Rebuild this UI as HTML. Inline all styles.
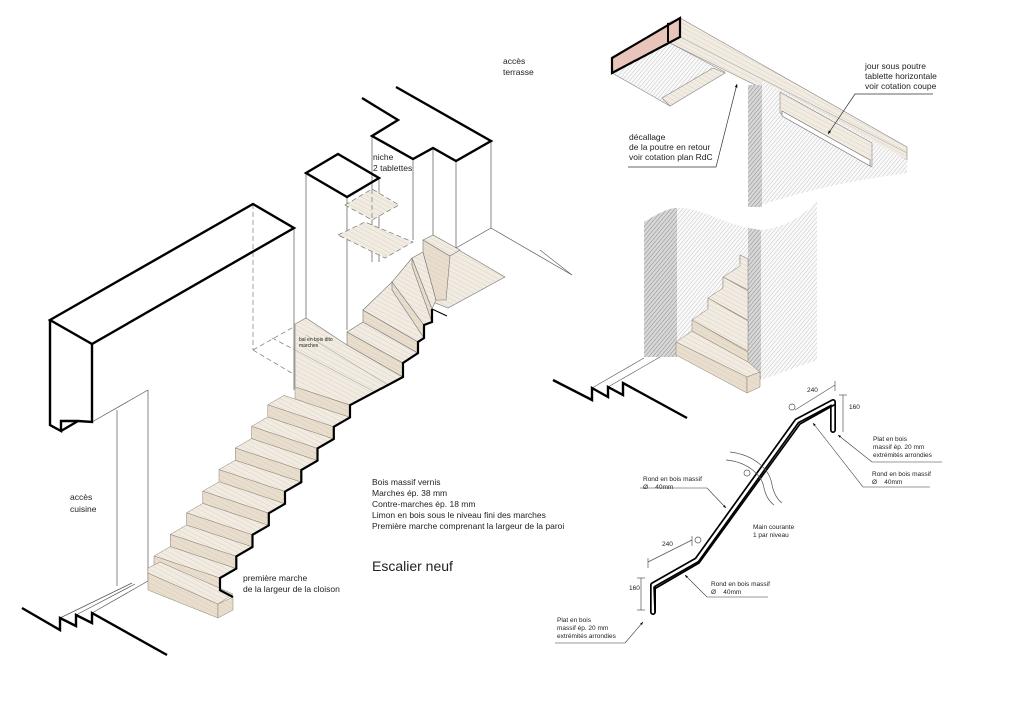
<!DOCTYPE html>
<html><head><meta charset="utf-8">
<style>
html,body{margin:0;padding:0;background:#fff;}
svg{display:block;}
text{font-family:"Liberation Sans",sans-serif;fill:#222;}
</style></head>
<body>
<svg width="1024" height="723" viewBox="0 0 1024 723" xmlns="http://www.w3.org/2000/svg">
<defs>
<pattern id="hb" width="4" height="4" patternUnits="userSpaceOnUse" patternTransform="rotate(28)">
<rect width="4" height="4" fill="#f1ebe1"/><line x1="0" y1="0" x2="4" y2="0" stroke="#d8cfc2" stroke-width="0.8"/></pattern>
<pattern id="hr" width="4" height="4" patternUnits="userSpaceOnUse" patternTransform="rotate(28)">
<rect width="4" height="4" fill="#e9dece"/><line x1="0" y1="0" x2="4" y2="0" stroke="#d6c8b4" stroke-width="0.8"/></pattern>
<pattern id="hg" width="3" height="3" patternUnits="userSpaceOnUse" patternTransform="rotate(-50)">
<rect width="3" height="3" fill="#fafafa"/><line x1="0" y1="0" x2="3" y2="0" stroke="#bdbdbd" stroke-width="0.9"/></pattern>
<pattern id="hd" width="3" height="3" patternUnits="userSpaceOnUse" patternTransform="rotate(-50)">
<rect width="3" height="3" fill="#d8d8d8"/><line x1="0" y1="0" x2="3" y2="0" stroke="#8a8a8a" stroke-width="1"/></pattern>
<marker id="ar" markerWidth="6" markerHeight="6" refX="5" refY="3" orient="auto"><path d="M0,1 L5,3 L0,5 z" fill="#000"/></marker>
</defs>

<!-- ===== LEFT DRAWING ===== -->
<g fill="none" stroke="#555" stroke-width="0.7">
<line x1="92" y1="422" x2="148" y2="390"/>
<line x1="117" y1="410" x2="117" y2="586"/>
<line x1="148" y1="390" x2="148" y2="581"/>
<line x1="60" y1="618" x2="132" y2="583"/>
<line x1="76" y1="615" x2="135" y2="584"/>
<line x1="92" y1="613" x2="148" y2="581"/>
<line x1="294" y1="228" x2="294" y2="390"/>
<line x1="306" y1="173" x2="306" y2="345"/>
<line x1="347" y1="197" x2="347" y2="330"/>
<line x1="379" y1="178" x2="379" y2="262"/>
<line x1="372" y1="136" x2="372" y2="262"/>
<line x1="413" y1="159" x2="413" y2="240"/>
<line x1="433" y1="148" x2="433" y2="236"/>
<line x1="456" y1="161" x2="456" y2="248"/>
<line x1="491" y1="141" x2="491" y2="228"/>
<line x1="456" y1="248" x2="491" y2="228"/>
<line x1="491" y1="228" x2="572" y2="275"/>
</g>
<g fill="none" stroke="#777" stroke-width="0.7" stroke-dasharray="5,3">
<line x1="253" y1="204" x2="253" y2="350"/>
<polyline points="253,350 306,320"/>
<polyline points="253,350 295,375"/>
<line x1="272" y1="338" x2="295" y2="350"/>
<polygon points="345,205 372,189 399,205 372,220" fill="url(#hb)"/>
<polygon points="338,235 365,222 413,242 385,258" fill="url(#hb)"/>
<line x1="372" y1="189" x2="372" y2="220"/>
</g>

<polygon points="433,235 505,277 448,308 433,302" fill="url(#hb)" stroke="#777" stroke-width="0.6"/>
<!-- landing -->
<polygon points="295,387 350,405 403,377 347,345 306,318 295,324" fill="url(#hb)" stroke="#777" stroke-width="0.6"/>
<g stroke="#aaa" stroke-width="0.6">
<line x1="295" y1="350" x2="375" y2="392"/>
<line x1="306" y1="335" x2="388" y2="385"/>
</g>
<text x="299" y="341" font-size="5" fill="#666">bal en bois dito</text>
<text x="299" y="347" font-size="5" fill="#666">marches</text>

<g stroke="#777" stroke-width="0.6">
<polygon points="347,332 403,363 403,377 347,345" fill="url(#hr)"/>
<polygon points="347,332 403,363 418,353 363,322" fill="url(#hb)"/>
<polygon points="363,310 418,342 418,353 363,322" fill="url(#hr)"/>
<polygon points="363,310 418,342 424,338 392,282" fill="url(#hb)"/>
<polygon points="392,282 424,325 424,338 392,290" fill="url(#hr)"/>
<polygon points="392,282 424,325 432,322 412,258" fill="url(#hb)"/>
<polygon points="412,258 432,309 432,322 412,266" fill="url(#hr)"/>
<polygon points="412,258 432,309 436,300 423,252" fill="url(#hb)"/>
<polygon points="423,240 450,256 446,300 436,300 423,252" fill="url(#hr)"/>
<polygon points="423,240 433,235 460,250 450,256" fill="url(#hb)"/>
</g>

<g id="steps" stroke="#8a8070" stroke-width="0.5"></g>
<g stroke="#8a8070" stroke-width="0.5">
<polygon points="148,573 218,604 218,618 148,590" fill="url(#hr)"/>
<polygon points="148,568 160,562 233,594 218,604 148,573" fill="url(#hb)"/>
<polygon points="218,604 233,597 233,610 218,618" fill="url(#hr)"/>
</g>
<polyline id="zig" fill="none" stroke="#000" stroke-width="2.2" points=""/>

<g fill="none" stroke="#000" stroke-width="2.4" stroke-linejoin="miter">
<polygon points="50,320 253,204 294,228 92,344"/>
<polyline points="50,320 50,425 61,431 61,421 78,421 92,422 92,344"/>
<polyline points="61,431 78,421"/>
<polygon points="306,173 338,154 379,178 347,197"/>
<polyline points="362,98 398,120 372,136 413,159 433,148 456,161 491,141 396,87"/>
<polyline points="22,608 60,630 60,618 76,626 76,615 92,623 92,613 167,655"/>
</g>
<line x1="432" y1="309" x2="447" y2="316" stroke="#000" stroke-width="1"/>

<g font-size="8.5">
<text x="503" y="64">accès</text><text x="503" y="75">terrasse</text>
<text x="373" y="160">niche</text><text x="373" y="171">2 tablettes</text>
<text x="70" y="500">accès</text><text x="70" y="512">cuisine</text>
<text x="372" y="485">Bois massif vernis</text>
<text x="372" y="496">Marches ép. 38 mm</text>
<text x="372" y="507">Contre-marches ép. 18 mm</text>
<text x="372" y="518">Limon en bois sous le niveau fini des marches</text>
<text x="372" y="529">Première marche comprenant la largeur de la paroi</text>
<text x="243" y="581">première marche</text><text x="243" y="592">de la largeur de la cloison</text>
</g>
<text x="372" y="571" font-size="14">Escalier neuf</text>

<!-- ===== RIGHT TOP ===== -->
<polygon points="612,73 668,42 725,72 670,106" fill="url(#hg)" stroke="#888" stroke-width="0.6"/>
<polygon points="662,98 713,68 725,73 670,106" fill="url(#hb)" stroke="#888" stroke-width="0.6"/>
<polygon points="668,23 680,18 907,147 907,160 668,42" fill="url(#hb)" stroke="#888" stroke-width="0.6"/>
<line x1="680" y1="37" x2="907" y2="153" stroke="#aaa" stroke-width="0.6"/>
<path d="M762,80 L907,160 L907,173 C860,180 820,186 762,205 Z" fill="url(#hg)"/>
<rect x="748" y="85" width="14" height="122" fill="url(#hd)"/>
<polygon points="780,92 872,143 872,167 780,113" fill="url(#hb)" stroke="#888" stroke-width="0.6"/>
<polygon points="782,111 870,160 870,166 782,116" fill="#fff" stroke="#666" stroke-width="0.6"/>
<polygon points="612,58 680,18 680,37 612,73" fill="#e8c4bb" stroke="#000" stroke-width="2.2"/>
<line x1="668" y1="23" x2="668" y2="42" stroke="#000" stroke-width="2"/>

<g font-size="8.5">
<text x="865" y="69">jour sous poutre</text><text x="865" y="79">tablette horizontale</text><text x="865" y="89">voir cotation coupe</text>
<text x="629" y="140">décallage</text><text x="629" y="150">de la poutre en retour</text><text x="629" y="160">voir cotation plan RdC</text>
</g>
<g fill="none" stroke="#333" stroke-width="0.7">
<polyline points="933,94 855,94 828,134" marker-end="url(#ar)"/>
<polyline points="628,167 716,167 737,84" marker-end="url(#ar)"/>
</g>

<!-- ===== RIGHT MIDDLE ===== -->
<path d="M644,222 C660,212 670,208 677,208 L677,357 L644,357 Z" fill="url(#hd)"/>
<path d="M677,208 C700,207 720,222 748,228 L748,352 L677,342 Z" fill="url(#hg)"/>
<path d="M748,228 L761,230 L761,380 L748,375 Z" fill="url(#hd)"/>
<path d="M761,230 C785,228 805,215 817,200 L817,360 L761,380 Z" fill="url(#hg)"/>
<g stroke="#8a8070" stroke-width="0.5">
<polygon points="740,255 748,259 748,266 740,262" fill="url(#hr)"/>
<polygon points="723,277 748,290 748,259 740,255 740,266" fill="url(#hb)"/>
<polygon points="723,277 748,291 748,302 723,288" fill="url(#hr)"/>
<polygon points="708,298 748,320 748,291 723,277 723,288" fill="url(#hb)"/>
<polygon points="708,298 748,321 748,332 708,309" fill="url(#hr)"/>
<polygon points="692,320 748,351 748,321 708,298 708,309" fill="url(#hb)"/>
<polygon points="692,320 748,352 748,362 692,331" fill="url(#hr)"/>
<polygon points="676,342 747,377 760,372 748,362 692,331" fill="url(#hb)"/>
<polygon points="676,342 747,377 747,393 676,355" fill="url(#hr)"/>
<polygon points="747,377 760,372 760,387 747,393" fill="url(#hr)"/>
</g>
<g fill="none" stroke="#555" stroke-width="0.6">
<line x1="592" y1="388" x2="644" y2="358"/><line x1="608" y1="387" x2="660" y2="357"/>
<line x1="540" y1="250" x2="572" y2="275"/>
</g>
<polyline points="553,380 592,400 592,388 608,397 608,387 623,395 623,383 687,418" fill="none" stroke="#000" stroke-width="2.4"/>

<!-- ===== HANDRAIL ===== -->
<g fill="none" stroke-linejoin="round" stroke-linecap="round">
<path d="M653,612 L653,585 L697,560 L797,421 L833,402 L833,430" stroke="#000" stroke-width="6"/>
<path d="M653,612 L653,585 L697,560 L797,421 L833,402 L833,430" stroke="#fff" stroke-width="2.6"/>
<path d="M654,587 L655,612 M656,588 L699,563 L800,424 L834,405" stroke="#000" stroke-width="1.6"/>
</g>
<g fill="none" stroke="#555" stroke-width="0.7">
<path d="M730,452 C755,455 770,470 772,485 C774,494 778,500 782,503"/>
<path d="M726,460 C748,462 762,475 764,488 C766,497 770,502 774,505"/>
<circle cx="792" cy="407" r="3"/><circle cx="747" cy="473" r="3"/><circle cx="698" cy="540" r="3"/>
<line x1="648" y1="562" x2="692" y2="540"/><line x1="692" y1="536" x2="692" y2="546"/><line x1="648" y1="558" x2="648" y2="568"/>
<line x1="641" y1="578" x2="641" y2="610"/><line x1="637" y1="578" x2="645" y2="578"/><line x1="637" y1="610" x2="645" y2="610"/>
<line x1="795" y1="410" x2="835" y2="385"/><line x1="835" y1="381" x2="835" y2="391"/>
<line x1="843" y1="395" x2="843" y2="432"/><line x1="839" y1="395" x2="847" y2="395"/>
</g>
<g font-size="6.5">
<text x="662" y="546">240</text><text x="629" y="590">160</text>
<text x="807" y="392">240</text><text x="849" y="409">160</text>
<text x="643" y="481">Rond en bois massif</text><text x="643" y="489">Ø&#160;&#160;&#160;&#160;40mm</text>
<text x="753" y="529">Main courante</text><text x="753" y="537">1 par niveau</text>
<text x="711" y="586">Rond en bois massif</text><text x="711" y="594">Ø&#160;&#160;&#160;&#160;40mm</text>
<text x="557" y="622">Plat en bois</text><text x="557" y="630">massif ép. 20 mm</text><text x="557" y="638">extrémités arrondies</text>
<text x="873" y="441">Plat en bois</text><text x="873" y="449">massif ép. 20 mm</text><text x="873" y="457">extrémités arrondies</text>
<text x="872" y="476">Rond en bois massif</text><text x="872" y="484">Ø&#160;&#160;&#160;&#160;40mm</text>
</g>
<g fill="none" stroke="#333" stroke-width="0.6">
<polyline points="640,488 707,488 726,508" marker-end="url(#ar)"/>
<polyline points="768,597 707,597 685,575" marker-end="url(#ar)"/>
<polyline points="555,643 625,643 643,622" marker-end="url(#ar)"/>
<polyline points="942,462 872,462 838,435" marker-end="url(#ar)"/>
<polyline points="930,487 863,487 813,423" marker-end="url(#ar)"/>
</g>
</svg>
<script>
(function(){
var NS="http://www.w3.org/2000/svg",g=document.getElementById("steps");
var wv=[66,22],gv=[16.3,-9.4],h=12.2,s=[16.25,-21.6];
var zig=[];
function P(q){return q[0].toFixed(1)+","+q[1].toFixed(1);}
function poly(pts,fill){var p=document.createElementNS(NS,"polygon");p.setAttribute("points",pts.map(P).join(" "));p.setAttribute("fill",fill);g.appendChild(p);}
function R(i){return [220+(i-1)*s[0],578+(i-1)*s[1]];}
function N(i){var r=R(i);return [r[0]-wv[0],r[1]-wv[1]];}
for(var i=9;i>=1;i--){
 var n=N(i),r=R(i);
 if(i<9)poly([n,r,[r[0]+gv[0],r[1]+gv[1]],[n[0]+gv[0],n[1]+gv[1]]],"url(#hb)");
 var nl=n; if(i==9){nl=[295,n[1]+(295-n[0])*wv[1]/wv[0]];}
 poly([nl,r,[r[0],r[1]+h],[nl[0],nl[1]+h]],"url(#hr)");
}
zig.push([233,597]);
for(var i=1;i<=9;i++){var r=R(i);zig.push([r[0],r[1]+h]);zig.push(r);}
zig.push([403,377]);zig.push([403,363]);zig.push([418,353]);zig.push([418,342]);zig.push([424,338]);zig.push([424,325]);zig.push([432,322]);zig.push([432,309]);
document.getElementById("zig").setAttribute("points",zig.map(P).join(" "));
})();
</script>
</body></html>
